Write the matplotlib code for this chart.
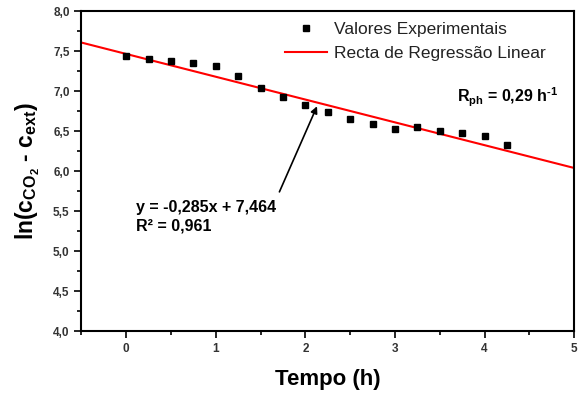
import numpy as np
import matplotlib
matplotlib.use("Agg")
import matplotlib.pyplot as plt
from matplotlib.ticker import MultipleLocator, FuncFormatter

plt.rcParams["font.family"] = ["Liberation Sans", "DejaVu Sans"]
plt.rcParams.update({
    "mathtext.fontset": "custom",
    "mathtext.rm": "Liberation Sans:bold",
    "mathtext.bf": "Liberation Sans:bold",
    "mathtext.it": "Liberation Sans:bold",
})

# ── Data ──────────────────────────────────────────────────────────────────────
tempo = [0.0, 0.25, 0.5, 0.75, 1.0, 1.25, 1.5, 1.75, 2.0,
         2.25, 2.5, 2.75, 3.0, 3.25, 3.5, 3.75, 4.0, 4.25]
ln_c = [7.44, 7.40, 7.37, 7.35, 7.31, 7.19, 7.04, 6.92, 6.83,
        6.74, 6.65, 6.59, 6.52, 6.55, 6.50, 6.47, 6.44, 6.33]
slope, intercept = -0.285, 7.464
x_fit = [-0.5, 5.0]

# ── Figure ────────────────────────────────────────────────────────────────────
fig = plt.figure(figsize=(5.84, 3.96), dpi=100)
ax = fig.add_axes([0.1395, 0.164, 0.8435, 0.808])

ax.plot(tempo, ln_c, "s", color="black", ms=4, label="Valores Experimentais", zorder=3)
ax.plot(x_fit, [slope * v + intercept for v in x_fit], "-", color="red", lw=1.5,
        label="Recta de Regressão Linear", zorder=2)

ax.set_xlim(-0.5, 5)
ax.set_ylim(4, 8)
ax.xaxis.set_major_locator(MultipleLocator(1))
ax.xaxis.set_minor_locator(MultipleLocator(0.5))
ax.yaxis.set_major_locator(MultipleLocator(0.5))
ax.yaxis.set_minor_locator(MultipleLocator(0.25))
ax.xaxis.set_major_formatter(FuncFormatter(lambda v, p: f"{v:.0f}"))
ax.yaxis.set_major_formatter(FuncFormatter(lambda v, p: f"{v:.1f}".replace(".", ",")))

for s in ax.spines.values():
    s.set_linewidth(1.5)
ax.tick_params(which="both", direction="out", width=1.2, colors="black",
               labelcolor="#333333")
ax.tick_params(which="major", length=5, labelsize=8.5)
ax.tick_params(which="minor", length=3)
for lab in ax.get_xticklabels() + ax.get_yticklabels():
    lab.set_fontweight("bold")

ax.set_xlabel("Tempo (h)", fontsize=16, fontweight="bold", labelpad=10)
ax.set_ylabel(r"ln(c$_{\mathrm{CO_2}}$ - c$_{\mathrm{ext}}$)", fontsize=16.5,
              fontweight="bold", labelpad=8)

leg = ax.legend(loc="upper left", bbox_to_anchor=(0.413, 0.966), fontsize=12.5,
                frameon=False, handlelength=2.45, handletextpad=0.35,
                borderpad=0, borderaxespad=0, labelspacing=0.5)
for t in leg.get_texts():
    t.set_color("#222222")

ax.text(4.82, 6.925, r"R$_{\mathrm{ph}}$ = 0,29 h$^{\text{-1}}$", fontsize=11.5,
        fontweight="bold", ha="right", va="center")
ax.text(0.11, 5.43, "y = -0,285x + 7,464\nR² = 0,961", fontsize=11.5,
        fontweight="bold", ha="left", va="center", linespacing=1.35)

ax.annotate("", xy=(2.13, 6.81), xytext=(1.71, 5.74),
            arrowprops=dict(arrowstyle="-|>", color="black", lw=1.2,
                            mutation_scale=10, shrinkA=0, shrinkB=0))

fig.savefig("out.png", dpi=100)
